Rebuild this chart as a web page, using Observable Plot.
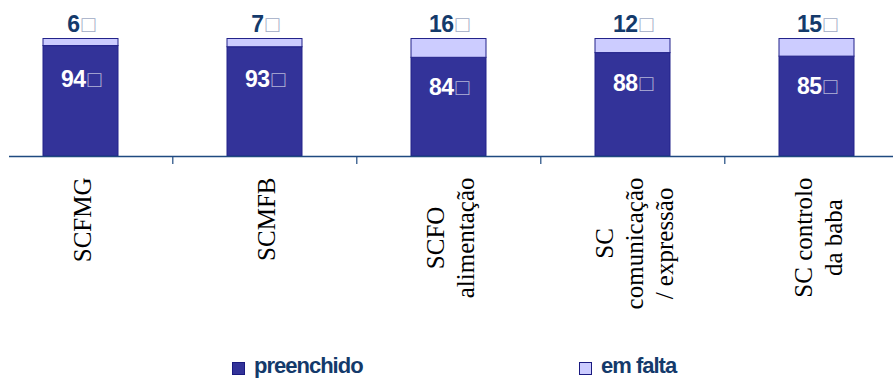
<!DOCTYPE html>
<html><head><meta charset="utf-8">
<script src="https://cdn.jsdelivr.net/npm/d3@7"></script>
<script src="https://cdn.jsdelivr.net/npm/@observablehq/plot@0.6"></script>
<style>
body{margin:0;background:#fff;width:893px;height:378px;overflow:hidden;position:relative}
#chart{position:absolute;left:0;top:0}
#legend{position:absolute;top:354px;left:0;width:893px;height:24px;font-family:"Liberation Sans",Arial,sans-serif;font-weight:bold;font-size:22px;color:#143a6b;letter-spacing:-1px;line-height:24px}
.item{position:absolute;top:0;display:flex;align-items:center;height:24px}
.sw{box-sizing:border-box;width:13px;height:13px;border:1px solid #1a1a80;margin-right:9px;margin-top:5px}
.catlab, .catlab text, .catlab tspan{font-family:"Liberation Serif","Times New Roman",serif !important}
</style></head><body>
<div id="chart"></div>
<div id="legend"></div>
<script>
const categories = ["SCFMG", "SCMFB", "SCFO\nalimentação", "SC\ncomunicação\n/ expressão", "SC controlo\nda baba"];
const preenchido = [94, 93, 84, 88, 85];
const emFalta = [6, 7, 16, 12, 15];
const seriesNames = ["preenchido", "em falta"];
const seriesColors = ["#333399", "#ccccff"];
const unitSuffix = "□";

const rows = [];
categories.forEach((c, i) => {
  rows.push({cat: c, series: seriesNames[0], value: preenchido[i]});
  rows.push({cat: c, series: seriesNames[1], value: emFalta[i]});
});
const lower = rows.filter(d => d.series === seriesNames[0]);
const upper = rows.filter(d => d.series === seriesNames[1]);

const W = 893, H = 350;
const xRange = [-13, 909];
const step = (xRange[1] - xRange[0]) / categories.length;
const yRange = [156, 38.5];
const pxPerUnit = (yRange[0] - yRange[1]) / 100;
const numFont = "'Liberation Sans', Arial, sans-serif";
const serifFont = "'Liberation Serif', 'Times New Roman', serif";

const plot = Plot.plot({
  width: W, height: H,
  marginLeft: 9, marginRight: 0, marginTop: 0, marginBottom: 0,
  x: {domain: categories, range: xRange, paddingInner: 0.593, paddingOuter: 0.2965, axis: null},
  y: {domain: [0, 100], range: yRange, axis: null},
  color: {domain: seriesNames, range: seriesColors},
  style: {background: "#fff", overflow: "hidden"},
  marks: [
    Plot.barY(rows, {x: "cat", y: "value", fill: "series", stroke: "#23238a", strokeWidth: 1}),
    Plot.ruleY([0], {stroke: "#1f4a80", strokeWidth: 1.3}),
    Plot.ruleX(categories.slice(1), {x: d => d, dx: -step / 2, y1: 0, y2: -8 / pxPerUnit, stroke: "#1f4a80", strokeWidth: 1.2}),
    Plot.text(lower, {x: "cat", y: d => d.value * 0.7, text: d => d.value + unitSuffix,
      fill: "#ffffff", fontFamily: numFont, fontWeight: "bold", fontSize: 23, lineAnchor: "middle", className: "innerlab"}),
    Plot.text(upper, {x: "cat", y: 100, dy: -7, text: d => d.value + unitSuffix,
      fill: "#143a6b", fontFamily: numFont, fontWeight: "bold", fontSize: 23, lineAnchor: "bottom", className: "toplab"}),
    Plot.text(categories, {x: d => d, y: 0, rotate: -90, textAnchor: "middle", lineAnchor: "middle",
      fill: "#000", fontFamily: serifFont, fontSize: 25, lineHeight: 1.2, className: "catlab"})
  ]
});
document.getElementById("chart").appendChild(plot);

// light outlined box glyph after each value, as in the original
[["g.innerlab text", "#b4b4d8"], ["g.toplab text", "#a0aac4"]].forEach(([sel, boxColor]) => {
  plot.querySelectorAll(sel).forEach(t => {
    t.setAttribute("letter-spacing", "-0.5");
    const s = t.textContent;
    if (s.endsWith(unitSuffix)) {
      t.textContent = s.slice(0, -unitSuffix.length);
      const ts = document.createElementNS("http://www.w3.org/2000/svg", "tspan");
      ts.setAttribute("fill", boxColor);
      ts.setAttribute("font-weight", "normal");
      ts.setAttribute("dx", "2");
      ts.textContent = unitSuffix;
      t.appendChild(ts);
    }
  });
});

// serif for every line, and place each rotated label so its far end sits just below the axis
const topGap = 21;
plot.querySelectorAll("g.catlab text").forEach(t => {
  t.setAttribute("font-family", serifFont);
  t.querySelectorAll("tspan").forEach(ts => ts.setAttribute("font-family", serifFont));
  const tr = t.getAttribute("transform") || "";
  const m = tr.match(/translate\(([-\d.]+)[ ,]+([-\d.]+)\)/);
  if (!m) return;
  const bb = t.getBBox();
  const newY = yRange[0] + topGap + bb.width / 2;
  t.setAttribute("transform", tr.replace(m[0], `translate(${m[1]},${newY})`));
});

// legend
const legend = document.getElementById("legend");
const legendX = [232, 579];
seriesNames.forEach((s, i) => {
  const it = document.createElement("div");
  it.className = "item";
  it.style.left = legendX[i] + "px";
  const sw = document.createElement("div");
  sw.className = "sw";
  sw.style.background = seriesColors[i];
  const tx = document.createElement("span");
  tx.textContent = s;
  it.appendChild(sw); it.appendChild(tx);
  legend.appendChild(it);
});
</script>
</body></html>
